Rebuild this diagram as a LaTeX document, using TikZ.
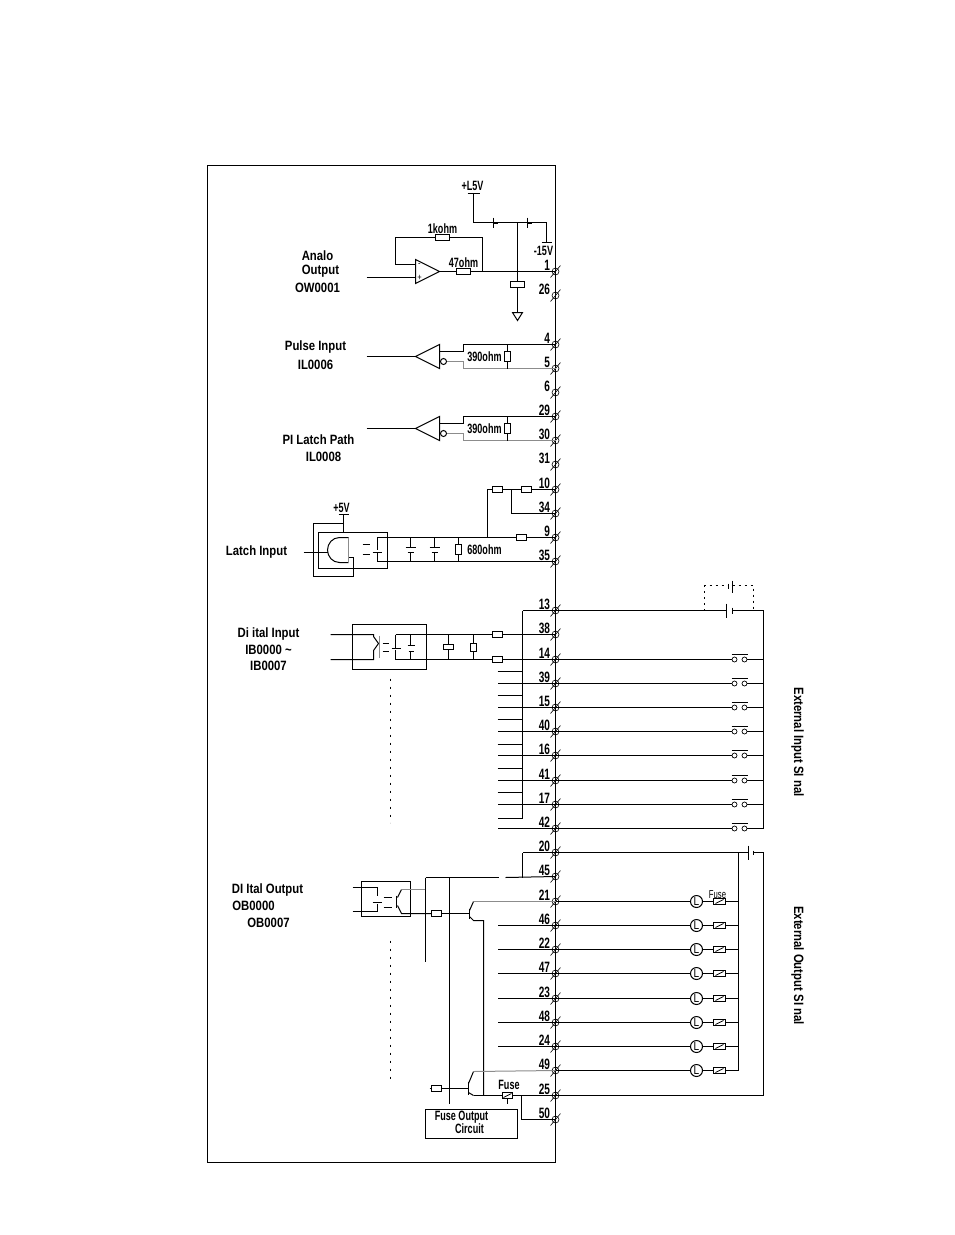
\documentclass[tikz,border=0pt]{standalone}
\usepackage{fontspec}
\setmainfont[FakeStretch=0.84]{Liberation Sans}
\newfontfamily\valfont[FakeStretch=0.67]{Liberation Sans}
\usetikzlibrary{calc}
\colorlet{fadewire}{black!45}
\newcommand\fusewidth{10}
\tikzset{
    lbl/.style={inner sep=0pt, font=\fontsize{13.5}{14}\selectfont\bfseries},
    vallbl/.style={inner sep=0pt, font=\valfont\fontsize{13.5}{14}\selectfont\bfseries},
    smalllbl/.style={inner sep=0pt, font=\valfont\fontsize{11.5}{12}\selectfont},
    termnum/.style={anchor=east, inner sep=0pt, font=\valfont\fontsize{15}{15}\selectfont\bfseries},
    term/.style={circle, draw, line width=.6pt, inner sep=0pt, minimum size=7},
    hres/.style={draw, inner sep=0pt, minimum width=14, minimum height=6},
    vres/.style={draw, inner sep=0pt, minimum width=6, minimum height=10},
    fusebox/.style={draw, inner sep=0pt, minimum width=\fusewidth, minimum height=6},
    lamp/.style={circle, draw, inner sep=0pt, minimum size=12, font=\fontsize{12}{12}\selectfont},
    contact/.style={circle, draw, line width=.7pt, inner sep=0pt, minimum size=5},
    plainbox/.style={draw, inner sep=0pt},
    fade/.style={fadewire},
}
\begin{document}
\begin{tikzpicture}[x=1pt,y=-1pt,line width=1pt]
\useasboundingbox (0,0) rectangle (954,1235);
\begin{scope}[shift={(.5,.5)}]
% frame
\node[plainbox, minimum width=348, minimum height=997] (frame) at (381,663.5) {};
% terminals
\foreach \n/\yy in {1/271,26/295,4/344,5/368,6/392,29/416,30/440,31/464,10/489,34/513,9/537,35/561,
    13/610,38/634,14/659,39/683,15/707,40/731,16/755,41/780,17/804,42/828,
    20/852,45/876,21/901,46/925,22/949,47/973,23/998,48/1022,24/1046,49/1070,25/1095,50/1119}{
    \node[term] (t\n) at (555,\yy) {};
    \node[termnum] (n\n) at (550,\yy-6.5) {\n};
    \draw[line width=.6pt] ($(t\n)+(-5,6)$) -- ($(t\n)+(5,-6)$);
}
% analog output
\node[lbl] (aoa) at (317,255) {Analo};
\node[lbl] (aob) at (320,271) {Output};
\node[lbl] (aoc) at (317,287) {OW0001};
\coordinate (oa) at (439,271);
\coordinate (oaup) at (415,259);
\coordinate (oadn) at (415,283);
\draw (oaup) -- (oa) -- (oadn) -- cycle;
\node[lbl, font=\fontsize{9}{9}\selectfont] (oam) at (419,265) {-};
\node[lbl, font=\fontsize{9}{9}\selectfont] (oap) at (419,277) {+};
\coordinate (aoin) at (366,277);
\draw (aoin) -- (aoin -| oaup);
\node[hres] (r47) at (463,271) {};
\node[hres] (r1k) at (442,237) {};
\node[vallbl] (l47) at (463,262) {47ohm};
\node[vallbl] (l1k) at (442,228) {1kohm};
\coordinate (fbr) at (482,271);
\coordinate (fbl) at (395,237);
\draw (oa) -- (r47) -- (t1.center);
\draw (fbr) |- (r1k) -- (fbl) |- (415,264);
% supply
\node[vallbl] (vp) at (472,185) {+L5V};
\node[vallbl] (vm) at (543,250) {-15V};
\coordinate (vpb) at (473,193);
\coordinate (vmb) at (546,242);
\coordinate (vj) at (517,222);
\coordinate (dpa) at (493,222);
\coordinate (dpb) at (527,222);
\draw (vpb) -- (473,222) -- (546,222) -- (vmb);
\draw ($(vpb)+(-6,0)$) -- ($(vpb)+(6,0)$);
\draw ($(vmb)+(-5,0)$) -- ($(vmb)+(5,0)$);
\draw (dpa) ++(0,-5) -- ++(0,10);
\draw (dpb) ++(0,-5) -- ++(0,10);
\draw[line width=2pt] (dpa) -- ++(4,0);
\draw[line width=2pt] (dpb) -- ++(4,0);
\node[hres] (rg) at (517,284) {};
\coordinate (gnd) at (517,312);
\draw (vj) -- (rg) -- (gnd);
\draw (gnd) ++(-5,0) -- ++(10,0) -- ++(-5,8) -- cycle;
% pulse input and latch path
\node[lbl] (pia) at (315,347) {Pulse Input};
\node[lbl] (pib) at (315,364) {IL0006};
\node[lbl] (pla) at (318,439) {PI Latch Path};
\node[lbl] (plb) at (323,456) {IL0008};
\foreach \ta/\tb/\yy in {4/5/356,29/30/428}{
    \coordinate (tip\ta) at (415,\yy);
    \draw (tip\ta) -- (439,\yy-12) -- (439,\yy+12) -- cycle;
    \draw ($(tip\ta)+(-49,0)$) -- (tip\ta);
    \node[circle, draw, inner sep=0pt, minimum size=6] (bub\ta) at (443,\yy+5) {};
    \node[vres] (r\ta) at (507,\yy) {};
    \node[vallbl] (l\ta) at (484,\yy) {390ohm};
    \draw (439,\yy-5) -- (463,\yy-5) |- (t\ta.center);
    \draw[fade] (bub\ta) -- (463,\yy+5) |- (t\tb.center);
    \draw (r\ta) -- (r\ta |- t\ta);
    \draw (r\ta) -- (r\ta |- t\tb);
}
% latch input
\node[lbl] (lil) at (256,552) {Latch Input};
\node[vallbl] (v5) at (341,507) {+5V};
\node[plainbox, minimum width=69, minimum height=36] (libox) at (352.5,550) {};
\coordinate (v5b) at (343,514);
\draw (v5b) -- (v5b |- libox.north);
\draw ($(v5b)+(-5,0)$) -- ($(v5b)+(5,0)$);
\draw (v5b |- 0,523) -- (313,523) -- (313,576) -- (353,576) -- (353,557) -- (348,557);
\coordinate (lin) at (303,552);
\draw (lin) -- (327,552);
\draw (348,562) -- (339,562) .. controls (332,562) and (327,556) .. (327,549.5)
    .. controls (327,543) and (332,537) .. (339,537) -- (348,537);
\draw[fade] (348,537) -- (348,562);
\draw (362,544) -- (369,544);
\draw (362,554) -- (369,554);
\draw (372,552) -- (381,552);
\draw (t35.center) -- (377,561) -- (377,552);
\foreach \nn/\xx in {a/410,b/434}{
    \coordinate (c\nn) at (\xx,549);
    \draw (\xx,537) -- (\xx,547);
    \draw (\xx,552) -- (\xx,561);
    \draw (\xx-5,547) -- (\xx+5,547);
    \draw (\xx-3,552) -- (\xx+3,552);
}
\node[vres] (r680) at (458,549) {};
\node[vallbl] (l680) at (484,549) {680ohm};
\draw (r680) -- (r680 |- t9);
\draw (r680) -- (r680 |- t35);
\node[fusebox] (f9) at (521,537) {};
\node[fusebox] (f10a) at (497,489) {};
\node[fusebox] (f10b) at (526,489) {};
\coordinate (j9) at (487,537);
\coordinate (j10) at (511,489);
\draw (t9.center) -- (f9) -- (j9) |- (f10a) -- (f10b) -- (t10.center);
\draw (j9) -- (377,537) -- (377,549);
\draw (j10) |- (t34.center);
% digital input
\node[lbl] (dia) at (268,633) {Di ital Input};
\node[lbl] (dib) at (268,649) {IB0000 \textasciitilde};
\node[lbl] (dic) at (268,665) {IB0007};
\node[plainbox, minimum width=74, minimum height=45] (dibox) at (389,646.5) {};
\coordinate (dia1) at (330,634);
\coordinate (dia2) at (330,659);
\draw (dia1) -- (373,634) -- (373,636) -- (378,643) -- (373,650) -- (373,659) -- (dia2);
\draw[fade] (379,635) -- (379,657);
\draw (382,643) -- (388,643);
\draw (382,651) -- (388,651);
\draw (391,648) -- (400,648);
\draw (395,634) -- (395,647);
\draw (395,649) -- (395,659);
\draw (407,645) -- (414,645);
\draw (408,651) -- (413,651);
\draw (410,634) -- (410,645);
\draw (410,651) -- (410,659);
\node[hres, minimum width=10, minimum height=5] (r448) at (448,646.5) {};
\node[vres, minimum height=8] (r473) at (473,647) {};
\node[fusebox] (f38) at (497,634) {};
\node[fusebox] (f14) at (497,659) {};
\draw (r448) -- (r448 |- t38);
\draw (r448) -- (r448 |- t14);
\draw (r473) -- (r473 |- t38);
\draw (r473) -- (r473 |- t14);
\draw (395,634) -- (f38) -- (t38.center);
\draw (395,659) -- (f14) -- (t14.center);
\draw[dash pattern=on 2pt off 6pt] (390,678) -- (390,822);
\coordinate (rail) at (522,610);
\draw (rail) -- (522,818) -- (497,818);
\foreach \yy in {671,695,719,744,768,792}{
    \coordinate (s\yy) at (497,\yy);
    \draw (s\yy) -- (s\yy -| rail);
}
% external input side
\coordinate (exi) at (763,610);
\node[lbl] at (797,741.5) [rotate=-90] (exil) {External Input SI nal};
\draw (exi) -- (exi |- t42);
\draw (t13.center) -- (rail);
\draw (t13.center) -- (726,610);
\draw (726,603) -- (726,617);
\draw (732,607) -- (732,613);
\draw (732,610) -- (exi);
\draw[dash pattern=on 2pt off 4pt] (704,610) -- (704,585) -- (728,585);
\draw[dash pattern=on 2pt off 4pt] (732,585) -- (753,585) -- (753,610);
\draw (732,580) -- (732,592);
\draw (728,583) -- (728,588);
\foreach \n in {14,39,15,40,16,41,17,42}{
    \node[contact] (ca\n) at (734,0 |- t\n) {};
    \node[contact] (cb\n) at (744,0 |- t\n) {};
    \draw (t\n.center) -- (ca\n);
    \draw (cb\n) -- (exi |- t\n);
    \draw ($(ca\n)+(-3,-5)$) -- ($(cb\n)+(3,-5)$);
}
\foreach \n in {39,15,40,16,41,17,42}{
    \draw (t\n.center) -- (497,0 |- t\n);
}
% digital output
\node[lbl] (doa) at (267,889) {DI Ital Output};
\node[lbl] (dob) at (253,905) {OB0000};
\node[lbl] (doc) at (268,922) {OB0007};
\node[plainbox, minimum width=49, minimum height=35] (dobox) at (385.5,898.5) {};
\draw (352,887) -- (377,887) -- (377,895);
\draw (352,911) -- (377,911) -- (377,903);
\draw (372,902) -- (381,902);
\draw (383,897) -- (391,897);
\draw (383,907) -- (391,907);
\draw (396,895) -- (396,907);
\coordinate (bus1) at (425,877);
\coordinate (bus2) at (449,877);
\draw (397,897) -- (401,889);
\draw[fade] (401,889) -- (bus1 |- 0,889);
\draw (397,905) -- (401,913) -- (431,913);
\draw (bus1) -- (425,961);
\draw (bus2) -- (449,1103);
\draw (bus1) -- (498,877);
\draw (505,877) -- (t45.center);
\draw (522,877) -- (522,852);
\node[fusebox] (fo1) at (436,913) {};
\draw (fo1) -- (469,913);
\draw (469,908) -- (469,918);
\draw (469,910) -- (473,901);
\draw[fade] (473,901) -- (t21.center);
\draw (469,916) -- (473,920) -- (483,920) -- (483,1095);
\draw[dash pattern=on 2pt off 6pt] (390,940) -- (390,1078);
% external output side
\coordinate (exo) at (763,1095);
\coordinate (lrail) at (738,852);
\node[lbl] at (797,965) [rotate=-90] (exol) {External Output SI nal};
\draw (t20.center) -- (522,852);
\draw (t20.center) -- (748,852);
\draw (748,845) -- (748,859);
\draw (753,850) -- (753,854);
\draw (753,852) -- (exo |- t20) -- (exo);
\draw (lrail) -- (lrail |- t49);
\foreach \n in {21,46,22,47,23,48,24,49}{
    \node[lamp] (la\n) at (696,0 |- t\n) {L};
    \node[fusebox, minimum width=12] (fu\n) at (719,0 |- t\n) {};
    \draw[line width=.8pt] ($(fu\n)+(-4,2)$) -- ($(fu\n)+(4,-2)$);
    \draw (t\n.center) -- (la\n) -- (fu\n) -- (lrail |- t\n);
}
\foreach \n in {46,22,47,23,48,24}{
    \draw (t\n.center) -- (497,0 |- t\n);
}
\node[smalllbl] (lfu) at (717,894) {Fuse};
% fuse output
\node[fusebox] (fo2) at (436,1088) {};
\coordinate (fo2a) at (429,1088);
\draw (fo2a) -- (fo2) -- (468,1088);
\draw (468,1081) -- (468,1094);
\draw (468,1083) -- (473,1071);
\draw[fade] (473,1071) -- (t49.center);
\draw (468,1092) -- (473,1095);
\node[fusebox] (fo3) at (507,1095) {};
\draw[line width=.8pt] ($(fo3)+(-4,2)$) -- ($(fo3)+(4,-2)$);
\draw (fo3) -- ++(0,8);
\node[vallbl] (lfo) at (508.5,1084) {Fuse};
\draw (473,1095) -- (fo3) -- (t25.center) -- (exo);
\draw (521,1095) |- (t50.center);
\node[plainbox, minimum width=92, minimum height=29] (fobox) at (471,1123.5) {};
\node[vallbl] (foa) at (461,1116.5) {Fuse Output};
\node[vallbl] (fob) at (469,1128.5) {Circuit};
\end{scope}
\end{tikzpicture}
\end{document}
